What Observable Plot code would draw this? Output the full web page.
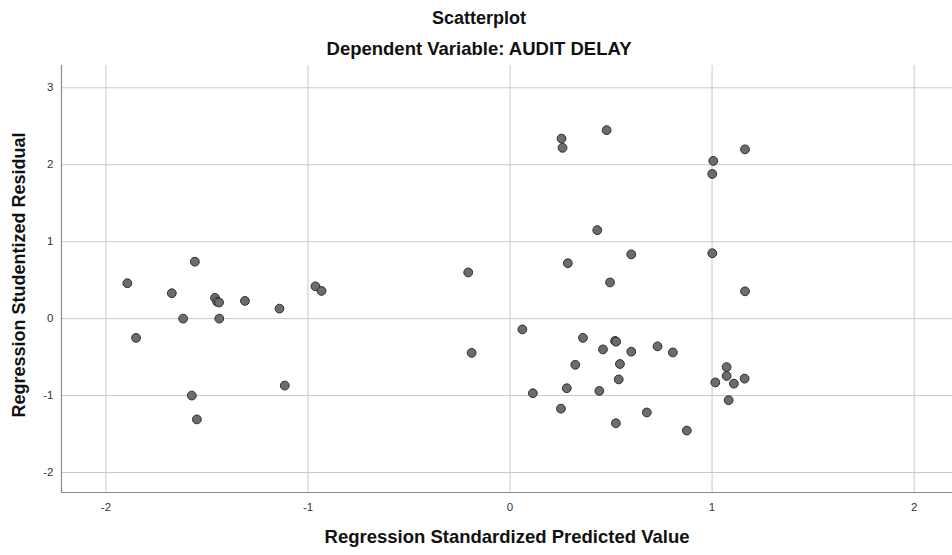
<!DOCTYPE html>
<html>
<head>
<meta charset="utf-8">
<script src="https://cdn.jsdelivr.net/npm/d3@7"></script>
<script src="https://cdn.jsdelivr.net/npm/@observablehq/plot@0.6"></script>
<style>
  html, body { margin: 0; padding: 0; background: #fff; }
  svg { font-family: "Liberation Sans", Arial, sans-serif; }
</style>
</head>
<body>
<div id="chart"></div>
<script>
const title = "Scatterplot";
const subtitle = "Dependent Variable: AUDIT DELAY";
const xLabel = "Regression Standardized Predicted Value";
const yLabel = "Regression Studentized Residual";
const xTicks = [-2, -1, 0, 1, 2];
const yTicks = [-2, -1, 0, 1, 2, 3];
const xDomain = [-2.22, 2.19];
const yDomain = [-2.26, 3.29];

const predicted = [
  -1.894, -1.56, -1.674, -1.46, -1.45, -1.44, -1.312, -1.141, -0.963, -0.933,
  -1.618, -1.439, -1.851, -1.115, -1.575, -1.55,
  -0.207, 0.255, 0.26, 0.478, 1.006, 1.001, 0.432, 1.001, 0.60, 0.286, 0.495,
  1.163, 1.163,
  -0.19, 0.061, 0.361, 0.52, 0.525, 0.46, 0.60, 0.73, 0.806, 0.323, 0.544, 0.538,
  0.113, 0.281, 0.442, 0.252, 0.677, 0.524, 0.875,
  1.072, 1.072, 1.016, 1.108, 1.161, 1.082
];
const residual = [
  0.46, 0.74, 0.33, 0.27, 0.22, 0.21, 0.23, 0.13, 0.42, 0.36,
  0.00, 0.00, -0.25, -0.87, -1.00, -1.31,
  0.60, 2.34, 2.22, 2.45, 2.05, 1.88, 1.15, 0.85, 0.835, 0.72, 0.47,
  2.20, 0.355,
  -0.445, -0.14, -0.25, -0.29, -0.30, -0.40, -0.43, -0.36, -0.44, -0.60, -0.59, -0.79,
  -0.97, -0.905, -0.94, -1.17, -1.22, -1.36, -1.455,
  -0.63, -0.745, -0.83, -0.845, -0.78, -1.06
];

const data = predicted.map((x, i) => ({x, y: residual[i]}));
const font = "'Liberation Sans', Arial, sans-serif";
const fmt = d => String(d);

const chart = Plot.plot({
  width: 952,
  height: 555,
  marginLeft: 61,
  marginRight: 0,
  marginTop: 65,
  marginBottom: 63,
  style: {fontFamily: font, background: "#fff"},
  x: {domain: xDomain},
  y: {domain: yDomain},
  marks: [
    Plot.gridX(xTicks, {stroke: "#c9c9c9", strokeOpacity: 1, strokeWidth: 1}),
    Plot.gridY(yTicks, {stroke: "#c9c9c9", strokeOpacity: 1, strokeWidth: 1}),
    Plot.axisX(xTicks, {tickSize: 0, tickPadding: 10, fontSize: 11.5, fill: "#333", tickFormat: fmt, label: null}),
    Plot.axisY(yTicks, {tickSize: 0, tickPadding: 8, fontSize: 11.5, fill: "#333", tickFormat: fmt, label: null}),
    Plot.ruleX([xDomain[0]], {stroke: "#8a8a8a", strokeWidth: 1.2}),
    Plot.ruleY([yDomain[0]], {stroke: "#8a8a8a", strokeWidth: 1.2}),
    Plot.dot(data, {x: "x", y: "y", r: 4.4, fill: "#6c6c6c", stroke: "#2e2e2e", strokeWidth: 1}),
    Plot.text([title], {frameAnchor: "top", dx: -28, dy: -54, fontSize: 18, fontWeight: "bold", fill: "#111"}),
    Plot.text([subtitle], {frameAnchor: "top", dx: -28, dy: -24, fontSize: 18.5, fontWeight: "bold", fill: "#111"}),
    Plot.text([xLabel], {frameAnchor: "bottom", dx: 0, dy: 50, fontSize: 18.5, fontWeight: "bold", fill: "#111"}),
    Plot.text([yLabel], {frameAnchor: "left", textAnchor: "middle", dx: -42, dy: -4, rotate: -90, fontSize: 18, fontWeight: "bold", fill: "#111"})
  ]
});
document.getElementById("chart").append(chart);
</script>
</body>
</html>
